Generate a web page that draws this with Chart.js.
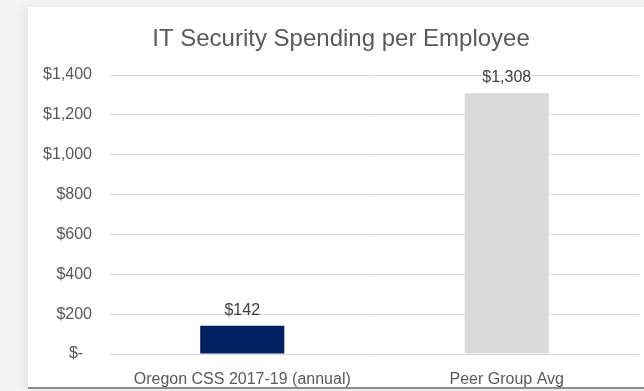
<!DOCTYPE html>
<html>
<head>
<meta charset="utf-8">
<script src="https://cdn.jsdelivr.net/npm/chart.js@4/dist/chart.umd.min.js"></script>
<style>
  html, body { margin: 0; padding: 0; }
  body {
    width: 644px;
    height: 391px;
    overflow: hidden;
    position: relative;
    background: #f4f4f4;
  }
  #card {
    position: absolute;
    left: 28px;
    top: 7px;
    width: 630px;
    height: 380px;
    background: #ffffff;
    border-bottom: 2px solid #8c8c8c;
    box-shadow: -5px 0 10px rgba(0, 0, 0, 0.07);
  }
  #spend-chart { display: block; }
</style>
</head>
<body>
<div id="card">
  <canvas id="spend-chart" width="630" height="380"></canvas>
</div>
<script>
const categories = ["Oregon CSS 2017-19 (annual)", "Peer Group Avg"]; // the two bars
const spending = [142, 1308]; // dollars per employee
const barColors = ["#002060", "#d9d9d9"];
const yTicks = [0, 200, 400, 600, 800, 1000, 1200, 1400];

// accounting style dollars, zero shows as "$-"
function dollars(v) {
    if (v === 0) return "$-  ";
    return "$" + v.toLocaleString("en-US");
}

// puts the value above every bar
const valueLabels = {
    id: "valueLabels",
    afterDatasetsDraw(chart) {
        const ctx = chart.ctx;
        const meta = chart.getDatasetMeta(0);
        ctx.save();
        ctx.font = "16px 'Liberation Sans', Arial, sans-serif";
        ctx.fillStyle = "#404040";
        ctx.textAlign = "center";
        ctx.textBaseline = "alphabetic";
        meta.data.forEach(function (bar, i) {
            ctx.fillText(dollars(spending[i]), bar.x, bar.y - 11);
        });
        ctx.restore();
    }
};

const canvas = document.getElementById("spend-chart");

let spendChart = new Chart(canvas, {
    type: "bar",
    data: {
        labels: categories,
        datasets: [{
            data: spending,
            backgroundColor: barColors,
            barPercentage: 0.318,
            categoryPercentage: 1
        }]
    },
    options: {
        responsive: false,
        animation: false,
        layout: {
            padding: { left: 15, right: 19, top: 0, bottom: 0 }
        },
        plugins: {
            legend: { display: false },
            tooltip: { enabled: false },
            title: {
                display: true,
                text: "IT Security Spending per Employee",
                color: "#595959",
                font: { family: "'Liberation Sans', Arial, sans-serif", size: 24, weight: "normal" },
                padding: { top: 17.6, bottom: 21.6 }
            }
        },
        scales: {
            x: {
                grid: { display: false },
                border: { display: false },
                ticks: {
                    color: "#595959",
                    padding: 8,
                    font: { family: "'Liberation Sans', Arial, sans-serif", size: 16 }
                },
                afterFit(scale) { scale.height = 33; }
            },
            y: {
                min: 0,
                max: 1400,
                afterBuildTicks(scale) {
                    scale.ticks = yTicks.map(v => ({ value: v }));
                },
                grid: { color: "#d9d9d9", lineWidth: 1, drawTicks: false },
                border: { display: false },
                ticks: {
                    color: "#595959",
                    padding: 18,
                    font: { family: "'Liberation Sans', Arial, sans-serif", size: 16 },
                    callback: function (value) { return dollars(value); }
                },
                afterFit(scale) { scale.width = 67; }
            }
        }
    },
    plugins: [valueLabels]
});
</script>
</body>
</html>
